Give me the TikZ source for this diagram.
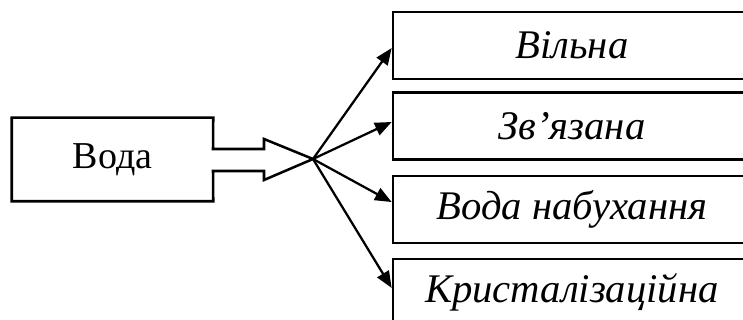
\documentclass[tikz,border=0pt]{standalone}
\usepackage{fontspec}
\setmainfont{Liberation Serif}
\usetikzlibrary{arrows.meta}
\begin{document}
\begin{tikzpicture}[x=0.75pt,y=-0.75pt,
  line join=miter,
  srcbox/.style={draw=none,minimum width=201*0.75pt,minimum height=83*0.75pt,inner sep=0pt,font=\fontsize{28.5pt}{30pt}\selectfont},
  kindbox/.style={draw,line width=2pt,minimum width=358*0.75pt,minimum height=67*0.75pt,inner sep=0pt,font=\fontsize{30.5pt}{32pt}\selectfont\itshape},
  outline/.style={line width=1.9pt},
  link/.style={line width=1.7pt,-{Triangle[length=12.5pt,width=10pt]}}]
\useasboundingbox (0,0) rectangle (743,320);
\clip (0,0) rectangle (743,320);
\node[srcbox] (voda) at (112.5,159.5) {Вода};
\coordinate (hub) at (313,159);
\draw[outline] (voda.north west) -- (voda.north east) -- (213,149) -- (264,149) -- (264,139)
  -- (hub) -- (264,180) -- (264,171) -- (213,171) -- (voda.south east) -- (voda.south west) -- cycle;
\node[kindbox] (b1) at (572,45.5) {Вільна};
\node[kindbox] (b2) at (572,126) {Зв’язана};
\node[kindbox] (b3) at (572,209.5) {Вода набухання};
\node[kindbox] (b4) at (572,292.5) {Кристалізаційна};
\draw[link] (hub) -- ([yshift=-1.9pt]b1.west);
\draw[link] (hub) -- ([yshift=3pt]b2.west);
\draw[link] (hub) -- ([yshift=5.6pt]b3.west);
\draw[link] (hub) -- ([yshift=3.4pt]b4.west);
\end{tikzpicture}
\end{document}
